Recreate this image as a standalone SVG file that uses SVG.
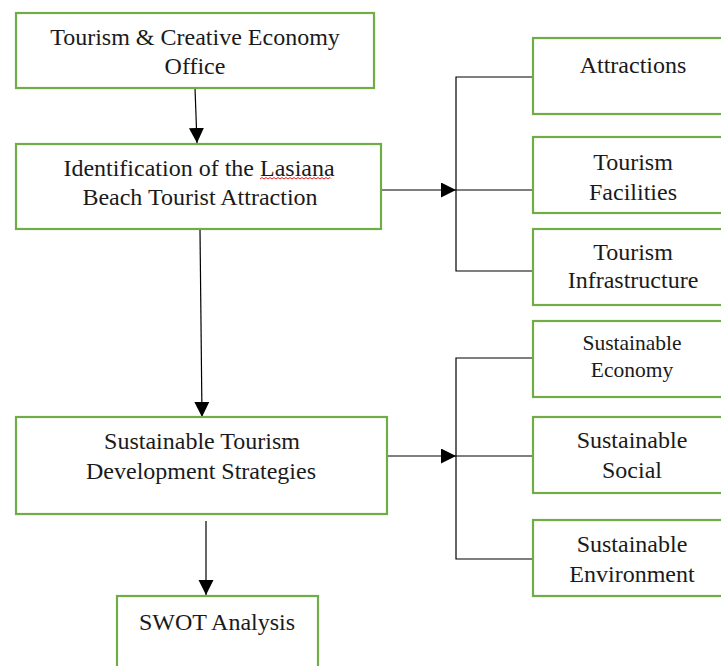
<svg xmlns="http://www.w3.org/2000/svg" width="721" height="666" viewBox="0 0 721 666">
<style>
.box{fill:#fff;stroke:#70AD47;stroke-width:2.2}
.t{font-family:"Liberation Serif","Times New Roman",serif;font-size:24px;fill:#1a1a1a;text-anchor:middle}
.ts{font-size:21.5px}
.c{fill:none;stroke:#000;stroke-width:1.2}
</style>
<defs>
<marker id="ah" markerUnits="userSpaceOnUse" markerWidth="16" markerHeight="16" refX="15" refY="7.5" orient="auto">
<path d="M0,0 L15,7.5 L0,15 Z" fill="#000"/>
</marker>
</defs>
<rect width="721" height="666" fill="#fff"/>
<g id="connectors">
<line class="c" x1="195" y1="88" x2="197" y2="143" marker-end="url(#ah)"/>
<line class="c" x1="200" y1="230" x2="202" y2="417" marker-end="url(#ah)"/>
<line class="c" x1="206" y1="521" x2="206" y2="595" marker-end="url(#ah)"/>
<line class="c" x1="381" y1="190" x2="456" y2="190" marker-end="url(#ah)"/>
<path class="c" d="M533,77 H456 V271 H533 M456,190 H533"/>
<line class="c" x1="387" y1="456" x2="456" y2="456" marker-end="url(#ah)"/>
<path class="c" d="M533,358 H456 V559 H533 M456,456 H533"/>
</g>
<g id="office">
<rect class="box" x="16" y="13" width="358" height="75"/>
<text class="t" x="195" y="45">Tourism &amp; Creative Economy</text>
<text class="t" x="195" y="74">Office</text>
</g>
<g id="identification">
<rect class="box" x="16" y="144" width="365" height="85"/>
<text class="t" x="199" y="176">Identification of the Lasiana</text>
<text class="t" x="200" y="205">Beach Tourist Attraction</text>
<path d="M260,179 l2,-1.5 l2,1.5 l2,-1.5 l2,1.5 l2,-1.5 l2,1.5 l2,-1.5 l2,1.5 l2,-1.5 l2,1.5 l2,-1.5 l2,1.5 l2,-1.5 l2,1.5 l2,-1.5 l2,1.5 l2,-1.5 l2,1.5 l2,-1.5 l2,1.5 l2,-1.5 l2,1.5 l2,-1.5 l2,1.5 l2,-1.5 l2,1.5 l2,-1.5 l2,1.5 l2,-1.5 l2,1.5 l2,-1.5 l2,1.5 l2,-1.5 l2,1.5 l2,-1.5 l1,1" fill="none" stroke="#e02020" stroke-width="1"/>
</g>
<g id="strategies">
<rect class="box" x="16" y="417" width="371" height="97"/>
<text class="t" x="202" y="449">Sustainable Tourism</text>
<text class="t" x="201" y="479">Development Strategies</text>
</g>
<g id="swot">
<rect class="box" x="117" y="596" width="201" height="80"/>
<text class="t" x="217" y="630">SWOT Analysis</text>
</g>
<g id="attractions">
<rect class="box" x="533" y="38" width="200" height="76"/>
<text class="t" x="633" y="73">Attractions</text>
</g>
<g id="facilities">
<rect class="box" x="533" y="137" width="200" height="76"/>
<text class="t" x="633" y="170">Tourism</text>
<text class="t" x="633" y="200">Facilities</text>
</g>
<g id="infrastructure">
<rect class="box" x="533" y="229" width="200" height="76"/>
<text class="t" x="633" y="260">Tourism</text>
<text class="t" x="633" y="288">Infrastructure</text>
</g>
<g id="economy">
<rect class="box" x="533" y="321" width="200" height="76"/>
<text class="t ts" x="632" y="350">Sustainable</text>
<text class="t ts" x="632" y="377">Economy</text>
</g>
<g id="social">
<rect class="box" x="533" y="417" width="200" height="76"/>
<text class="t" x="632" y="448">Sustainable</text>
<text class="t" x="632" y="478">Social</text>
</g>
<g id="environment">
<rect class="box" x="533" y="520" width="200" height="76"/>
<text class="t" x="632" y="552">Sustainable</text>
<text class="t" x="632" y="582">Environment</text>
</g>
</svg>
